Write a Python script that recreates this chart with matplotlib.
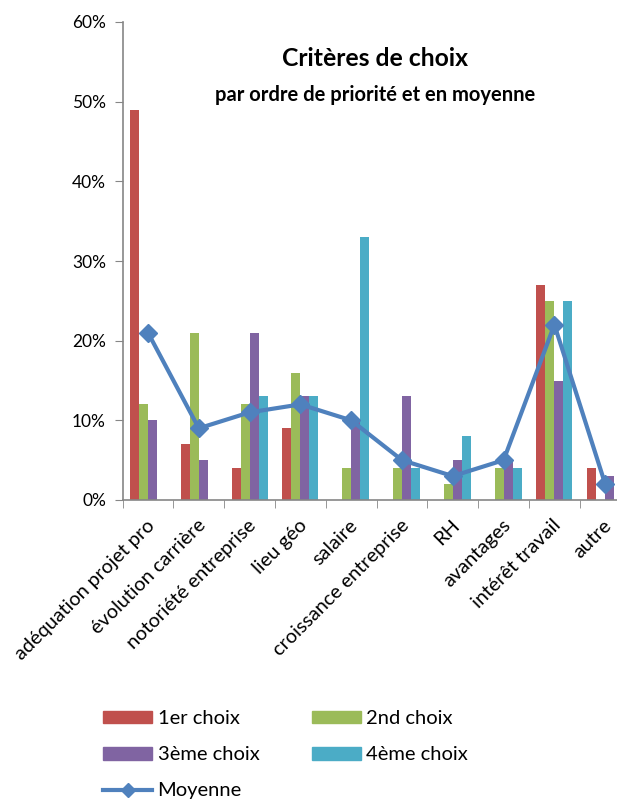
import matplotlib.pyplot as plt
import matplotlib.patches as mpatches
from matplotlib.lines import Line2D
import numpy as np

plt.rcParams['font.family'] = ['Lato', 'DejaVu Sans']

categories = ['adéquation projet pro', 'évolution carrière', 'notoriété entreprise',
              'lieu géo', 'salaire', 'croissance entreprise', 'RH', 'avantages',
              'intérêt travail', 'autre']
choix1 = [49, 7, 4, 9, 0, 0, 0, 0, 27, 4]
choix2 = [12, 21, 12, 16, 4, 4, 2, 4, 25, 0]
choix3 = [10, 5, 21, 13, 10, 13, 5, 5, 15, 3]
choix4 = [0, 0, 13, 13, 33, 4, 8, 4, 25, 0]
moyenne = [21, 9, 11, 12, 10, 5, 3, 5, 22, 2]
series_names = ['1er choix', '2nd choix', '3ème choix', '4ème choix']
colors = ['#C0504D', '#9BBB59', '#8064A2', '#4BACC6']
line_color = '#4F81BD'
axis_color = '#868686'

fig = plt.figure(figsize=(6.17, 8), dpi=100)
# plot area runs past the right edge like in the original capture
ax = fig.add_axes([122.6 / 617, 0.375, 508 / 617, 0.5975])

x = np.arange(len(categories))
w = 0.177
for k, (vals, c) in enumerate(zip([choix1, choix2, choix3, choix4], colors)):
    ax.bar(x + (k - 1.5) * w, vals, width=w, color=c, edgecolor='none', zorder=2)
ax.plot(x, moyenne, color=line_color, lw=3, marker='D', ms=9,
        markeredgecolor=line_color, zorder=3)

ax.set_xlim(-0.5, len(categories) - 0.5)
ax.set_ylim(0, 60)
ax.set_yticks(range(0, 61, 10))
ax.set_yticklabels([f'{v}%' for v in range(0, 61, 10)], fontsize=12.5)
ax.set_xticks(x - 0.04)
ax.set_xticklabels(categories, rotation=45, ha='right', va='top',
                   rotation_mode='anchor', fontsize=14.3)
ax.set_xticks(np.arange(-0.5, len(categories), 1), minor=True)
ax.tick_params(axis='x', which='major', length=0, pad=12)
ax.tick_params(axis='x', which='minor', length=6, color=axis_color, direction='out')
ax.tick_params(axis='y', length=6, color=axis_color, direction='out', pad=6)

for s in ['top', 'right']:
    ax.spines[s].set_visible(False)
for s in ['left', 'bottom']:
    ax.spines[s].set_color(axis_color)
    ax.spines[s].set_linewidth(1.2)

fig.text(375 / 617, 1 - 66 / 800, 'Critères de choix', ha='center', va='baseline',
         fontsize=17.8, fontweight='bold')
fig.text(375 / 617, 1 - 101 / 800, 'par ordre de priorité et en moyenne', ha='center',
         va='baseline', fontsize=14.5, fontweight='bold')

handles = [mpatches.Patch(color=colors[0]), mpatches.Patch(color=colors[2]),
           Line2D([], [], color=line_color, lw=3, marker='D', ms=7),
           mpatches.Patch(color=colors[1]), mpatches.Patch(color=colors[3])]
labels = [series_names[0], series_names[2], 'Moyenne', series_names[1], series_names[3]]
fig.legend(handles, labels, ncol=2, loc='upper left', bbox_to_anchor=(85 / 617, 1 - 692 / 800),
           frameon=False, fontsize=14.5, handlelength=2.45, handleheight=0.6,
           labelspacing=0.95, columnspacing=2.6, handletextpad=0.25)

fig.savefig('out.png', dpi=100)
